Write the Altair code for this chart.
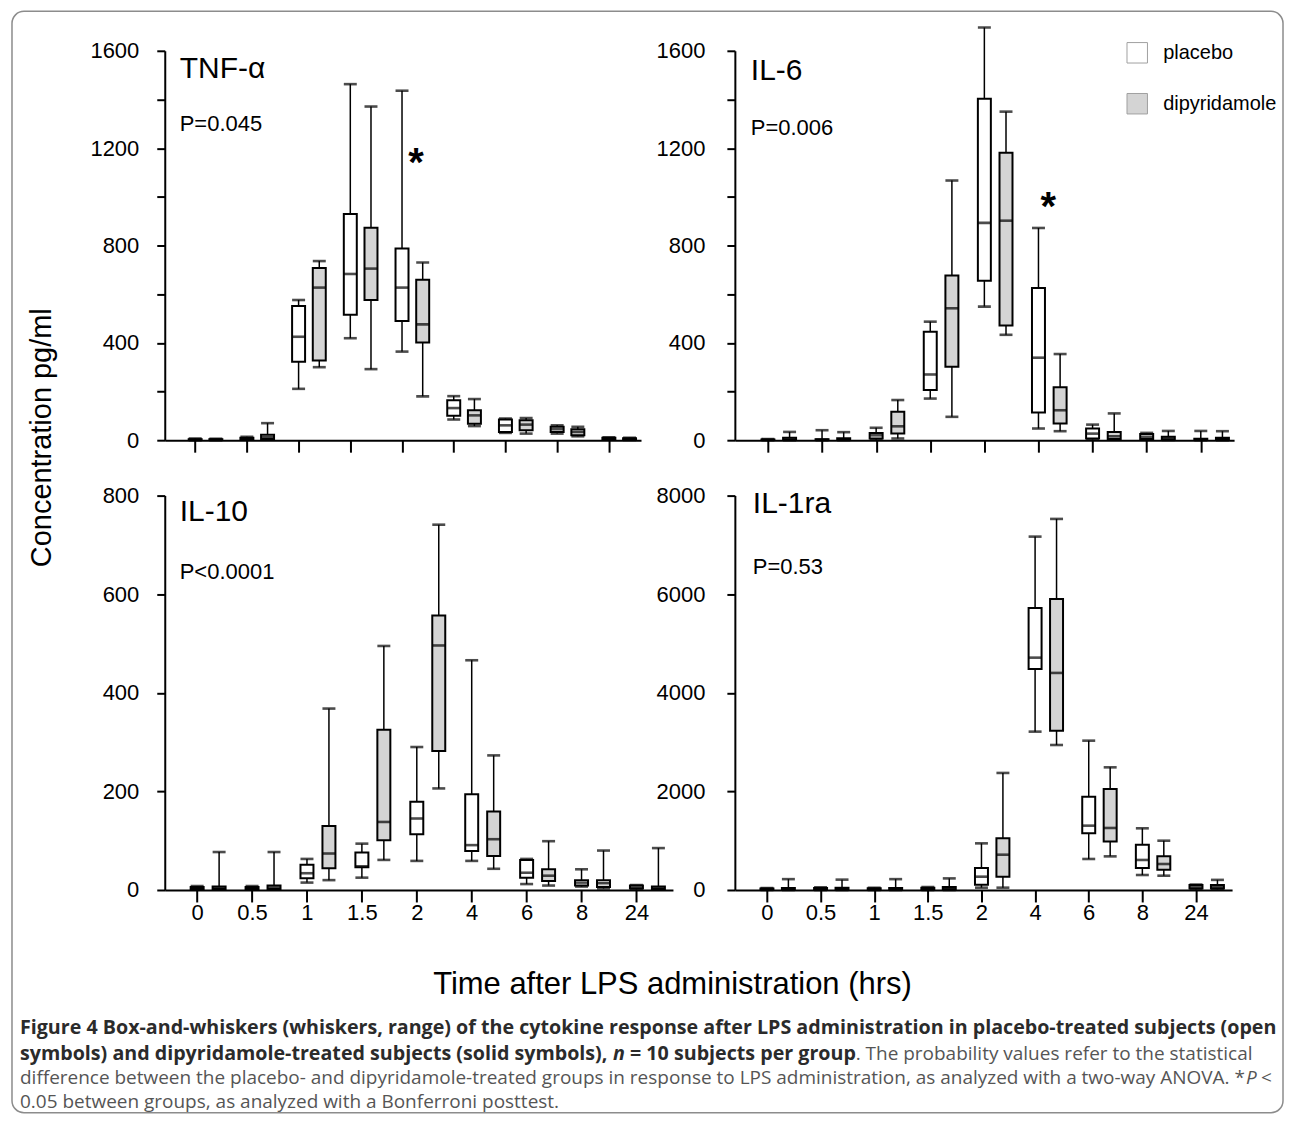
import altair as alt
import pandas as pd

FONT = "Liberation Sans, Arial, Helvetica, sans-serif"
CAPFONT = "Open Sans, Liberation Sans, sans-serif"

times = ['0', '0.5', '1', '1.5', '2', '4', '6', '8', '24']
groups = ['placebo', 'dipyridamole']

# ---- TNF-alpha (min, q1, median, q3, max) ----
tnf_pla_min = [0, 2, 211, 419, 364, 85, 30, 27, 2]
tnf_pla_q1 = [1, 4, 322, 515, 490, 100, 34, 34, 3]
tnf_pla_med = [2, 7, 425, 683, 627, 132, 61, 45, 6]
tnf_pla_q3 = [4, 10, 551, 929, 788, 164, 85, 55, 10]
tnf_pla_max = [7, 14, 576, 1463, 1436, 181, 89, 61, 12]
tnf_dip_min = [0, 2, 300, 292, 180, 58, 27, 16, 1]
tnf_dip_q1 = [1, 5, 327, 576, 401, 68, 41, 20, 3]
tnf_dip_med = [2, 12, 627, 705, 476, 102, 64, 34, 5]
tnf_dip_q3 = [4, 22, 708, 873, 659, 123, 82, 45, 8]
tnf_dip_max = [6, 70, 736, 1371, 730, 169, 91, 55, 10]

# ---- IL-6 ----
il6_pla_min = [0, 0, 2, 171, 549, 48, 3, 2, 0]
il6_pla_q1 = [1, 1, 7, 206, 655, 114, 7, 5, 1]
il6_pla_med = [2, 2, 20, 270, 893, 339, 27, 14, 3]
il6_pla_q3 = [3, 4, 30, 446, 1403, 625, 48, 25, 6]
il6_pla_max = [5, 41, 51, 487, 1696, 872, 64, 30, 38]
il6_dip_min = [0, 0, 7, 96, 433, 37, 2, 1, 0]
il6_dip_q1 = [1, 1, 27, 302, 471, 69, 5, 3, 2]
il6_dip_med = [4, 3, 57, 542, 902, 123, 16, 7, 5]
il6_dip_q3 = [10, 8, 117, 677, 1181, 218, 34, 14, 10]
il6_dip_max = [34, 33, 165, 1067, 1350, 354, 110, 38, 37]

# ---- IL-10 ----
il10_pla_min = [1, 1, 15, 25, 59, 59, 12, 7, 1]
il10_pla_q1 = [2, 2, 24, 46, 113, 79, 25, 9, 3]
il10_pla_med = [4, 4, 34, 48, 145, 91, 35, 15, 5]
il10_pla_q3 = [6, 6, 51, 76, 179, 194, 61, 20, 9]
il10_pla_max = [8, 8, 63, 94, 290, 466, 63, 42, 10]
il10_dip_min = [1, 1, 20, 61, 206, 43, 9, 3, 1]
il10_dip_q1 = [2, 2, 44, 101, 282, 69, 18, 6, 2]
il10_dip_med = [4, 5, 74, 138, 496, 103, 29, 14, 4]
il10_dip_q3 = [7, 9, 130, 325, 557, 159, 42, 20, 7]
il10_dip_max = [77, 77, 368, 495, 741, 273, 99, 80, 85]

# ---- IL-1ra ----
il1ra_pla_min = [0, 0, 0, 0, 47, 3212, 629, 304, 10]
il1ra_pla_q1 = [10, 10, 10, 10, 108, 4484, 1149, 446, 30]
il1ra_pla_med = [20, 20, 20, 25, 270, 4713, 1305, 609, 60]
il1ra_pla_q3 = [30, 40, 35, 45, 446, 5722, 1893, 920, 100]
il1ra_pla_max = [40, 55, 45, 60, 946, 7168, 3029, 1251, 110]
il1ra_dip_min = [0, 0, 0, 0, 47, 2941, 682, 290, 10]
il1ra_dip_q1 = [10, 10, 10, 15, 270, 3232, 986, 412, 30]
il1ra_dip_med = [20, 25, 25, 35, 716, 4403, 1258, 527, 55]
il1ra_dip_q3 = [40, 45, 40, 60, 1047, 5904, 2049, 682, 100]
il1ra_dip_max = [220, 210, 220, 235, 2374, 7527, 2488, 1000, 205]

panel_names = ['TNF-α', 'IL-6', 'IL-10', 'IL-1ra']
p_values = ['P=0.045', 'P=0.006', 'P<0.0001', 'P=0.53']
# significance asterisks: (time index position, concentration)
asterisk_tnf = [(4.27, 1154)]
asterisk_il6 = [(5.18, 975)]

caption_l1 = ("Figure 4 Box-and-whiskers (whiskers, range) of the cytokine response after LPS "
              "administration in placebo-treated subjects (open")
caption_l2a = "symbols) and dipyridamole-treated subjects (solid symbols),"
caption_l2n = "n"
caption_l2b = "= 10 subjects per group"
caption_l2c = ". The probability values refer to the statistical"
caption_l3a = ("difference between the placebo- and dipyridamole-treated groups in response to LPS "
               "administration, as analyzed with a two-way ANOVA. *")
caption_l3p = "P"
caption_l3b = "<"
caption_l4 = "0.05 between groups, as analyzed with a Bonferroni posttest."

OFFSET = 0.4  # dipyridamole box offset (category units)


def make_df(pla, dip):
    rows = []
    for g, arr, off in [('placebo', pla, 0.0), ('dipyridamole', dip, OFFSET)]:
        mn, q1, md, q3, mx = arr
        for i, t in enumerate(times):
            rows.append(dict(time=t, idx=i, group=g, pos=i + off, lo=mn[i], q1=q1[i],
                             med=md[i], q3=q3[i], hi=mx[i]))
    return pd.DataFrame(rows)


label_expr = "[" + ",".join("'%s'" % t for t in times) + "][datum.value]"
one = pd.DataFrame({'k': [0]})


def text_layer(txt, x, y, size, weight='normal', style='normal', color='black',
               font=FONT, align='left', baseline='alphabetic'):
    return alt.Chart(one).mark_text(text=txt, fontSize=size, fontWeight=weight, fontStyle=style,
                                    color=color, font=font, align=align, baseline=baseline).encode(
        x=alt.value(x), y=alt.value(y))


def panel(df, name, ptxt, width, height, xdom, ydom, yvals, ymajor, bottom, lpad,
          title_xy, p_xy, ytitle=None, xtitle=None, legend=None, asterisks=None, extra=None):
    if ymajor:
        lexpr = "datum.value %% %d == 0 ? format(datum.value, 'd') : ''" % ymajor
    else:
        lexpr = "format(datum.value, 'd')"
    yaxis_kw = dict(values=yvals, labelExpr=lexpr, tickSize=8, labelPadding=lpad,
                    labelFontSize=22, labelOverlap=False, labelFlush=False, grid=False)
    if ytitle:
        yaxis_kw.update(title=ytitle[0], titleX=ytitle[1], titleY=ytitle[2], titleAngle=270,
                        titleFontSize=29, titleFontWeight='normal', titleAlign='center',
                        titleBaseline='middle', titleFont=FONT)
    else:
        yaxis_kw['title'] = None
    yaxis = alt.Axis(**yaxis_kw)
    xaxis_kw = dict(values=list(range(len(times))), tickSize=12, grid=False,
                    labelFlush=False, labelOverlap=False)
    if bottom:
        xaxis_kw.update(labelExpr=label_expr, labelFontSize=22, labelPadding=1)
    else:
        xaxis_kw.update(labels=False)
    if xtitle:
        xaxis_kw.update(title=xtitle[0], titleX=xtitle[1], titleY=xtitle[2], titleFontSize=31,
                        titleFontWeight='normal', titleAlign='center', titleBaseline='middle',
                        titleFont=FONT)
    else:
        xaxis_kw['title'] = None
    xaxis = alt.Axis(**xaxis_kw)

    xs = alt.Scale(domain=xdom, nice=False, zero=False)
    ys = alt.Scale(domain=ydom, nice=False, zero=False)

    def Y(f):
        return alt.Y(f + ':Q', scale=ys, axis=yaxis)

    base = alt.Chart(df).encode(x=alt.X('pos:Q', scale=xs, axis=xaxis))
    rule = base.mark_rule(color='black', strokeWidth=1.5).encode(y=Y('lo'), y2='hi:Q')
    cap_lo = base.mark_tick(orient='horizontal', size=13, thickness=2.6, color='black').encode(y=Y('lo'))
    cap_hi = base.mark_tick(orient='horizontal', size=13, thickness=2.6, color='black').encode(y=Y('hi'))
    fill = alt.Fill('group:N', scale=alt.Scale(domain=groups, range=['#ffffff', '#d4d4d4']),
                    legend=legend)
    box = base.mark_bar(size=13, stroke='black', strokeWidth=2).encode(y=Y('q1'), y2='q3:Q', fill=fill)
    med = base.mark_tick(orient='horizontal', size=13, thickness=2.6, color='black').encode(y=Y('med'))
    layers = [rule, cap_lo, cap_hi, box, med,
              text_layer(name, title_xy[0], title_xy[1], 30),
              text_layer(ptxt, p_xy[0], p_xy[1], 22)]
    if asterisks:
        adf = pd.DataFrame({'pos': [a[0] for a in asterisks], 'val': [a[1] for a in asterisks]})
        layers.append(alt.Chart(adf).mark_text(text='*', fontSize=40, fontWeight='bold', font=FONT,
                                               color='black', baseline='middle', dy=5).encode(
            x=alt.X('pos:Q', scale=xs, axis=xaxis), y=alt.Y('val:Q', scale=ys, axis=yaxis)))
    if extra:
        layers = extra + layers
    return alt.layer(*layers).properties(width=width, height=height)


tnf_df = make_df((tnf_pla_min, tnf_pla_q1, tnf_pla_med, tnf_pla_q3, tnf_pla_max),
                 (tnf_dip_min, tnf_dip_q1, tnf_dip_med, tnf_dip_q3, tnf_dip_max))
il6_df = make_df((il6_pla_min, il6_pla_q1, il6_pla_med, il6_pla_q3, il6_pla_max),
                 (il6_dip_min, il6_dip_q1, il6_dip_med, il6_dip_q3, il6_dip_max))
il10_df = make_df((il10_pla_min, il10_pla_q1, il10_pla_med, il10_pla_q3, il10_pla_max),
                  (il10_dip_min, il10_dip_q1, il10_dip_med, il10_dip_q3, il10_dip_max))
il1ra_df = make_df((il1ra_pla_min, il1ra_pla_q1, il1ra_pla_med, il1ra_pla_q3, il1ra_pla_max),
                   (il1ra_dip_min, il1ra_dip_q1, il1ra_dip_med, il1ra_dip_q3, il1ra_dip_max))

# rounded frame around the whole figure (relative to the TNF panel origin)
border = alt.Chart(one).mark_rect(fill='transparent', stroke='#8c8c8c', strokeWidth=1.5,
                                  cornerRadius=12).encode(
    x=alt.value(-153), x2=alt.value(1120), y=alt.value(-39.5), y2=alt.value(1063.5))

legend = alt.Legend(title=None, orient='none', legendX=392, legendY=-9, direction='vertical',
                    symbolType='square', symbolSize=420, symbolStrokeColor='#a0a0a0',
                    symbolStrokeWidth=1, labelFontSize=20, labelFont=FONT, labelColor='black',
                    labelOffset=15, rowPadding=25, padding=0)

BOLD_C = '#2b2b2b'
REG_C = '#555555'
BS = 19.7
RS = 19.0
L1, L2, L3, L4 = 539.5, 565.25, 589.25, 613.25
cap_layers = [
    text_layer(caption_l1, -145, L1, BS, weight='bold', color=BOLD_C, font=CAPFONT),
    text_layer(caption_l2a, -145, L2, BS, weight='bold', color=BOLD_C, font=CAPFONT),
    text_layer(caption_l2n, 449, L2, BS, weight='bold', style='italic', color=BOLD_C, font=CAPFONT),
    text_layer(caption_l2b, 466, L2, BS, weight='bold', color=BOLD_C, font=CAPFONT),
    text_layer(caption_l2c, 692, L2, RS, color=REG_C, font=CAPFONT),
    text_layer(caption_l3a, -145, L3, RS, color=REG_C, font=CAPFONT),
    text_layer(caption_l3p, 1083, L3, RS, style='italic', color=REG_C, font=CAPFONT),
    text_layer(caption_l3b, 1098, L3, RS, color=REG_C, font=CAPFONT),
    text_layer(caption_l4, -145, L4, RS, color=REG_C, font=CAPFONT),
]

p_tnf = panel(tnf_df, panel_names[0], p_values[0], 477, 390, [-0.4915, 8.525], [0, 1600],
              list(range(0, 1601, 200)), 400, False, 18, (15, 27), (15, 80.5),
              ytitle=('Concentration pg/ml', -123, 387), asterisks=asterisk_tnf, extra=[border])
p_il6 = panel(il6_df, panel_names[1], p_values[1], 500, 390, [-0.519, 8.523], [0, 1600],
              list(range(0, 1601, 200)), 400, False, 22, (16, 29), (16, 84),
              legend=legend, asterisks=asterisk_il6)
p_il10 = panel(il10_df, panel_names[2], p_values[2], 509, 395, [-0.499, 8.574], [0, 800],
               list(range(0, 801, 200)), None, True, 18, (15, 25.5), (15, 83.5),
               xtitle=('Time after LPS administration (hrs)', 508, 95))
p_il10 = alt.layer(p_il10, *cap_layers)
p_il1ra = panel(il1ra_df, panel_names[3], p_values[3], 498, 395, [-0.505, 8.58], [0, 8000],
                list(range(0, 8001, 2000)), None, True, 22, (18, 17), (18, 79))

chart = alt.concat(p_tnf, p_il6, p_il10, p_il1ra, columns=2,
                   spacing={'row': 55.5, 'column': 62}, bounds='flush').resolve_scale(
    fill='independent').resolve_legend(fill='independent').properties(
    padding={'left': 2, 'top': 1, 'right': 0, 'bottom': 0}, background='white').configure_view(
    stroke='transparent').configure_axis(
    domainColor='black', domainWidth=2, tickColor='black', tickWidth=2, labelColor='black',
    labelFont=FONT, titleColor='black', titleFont=FONT, grid=False)

chart.save("out.html", embed_options={"renderer": "svg", "actions": False})
